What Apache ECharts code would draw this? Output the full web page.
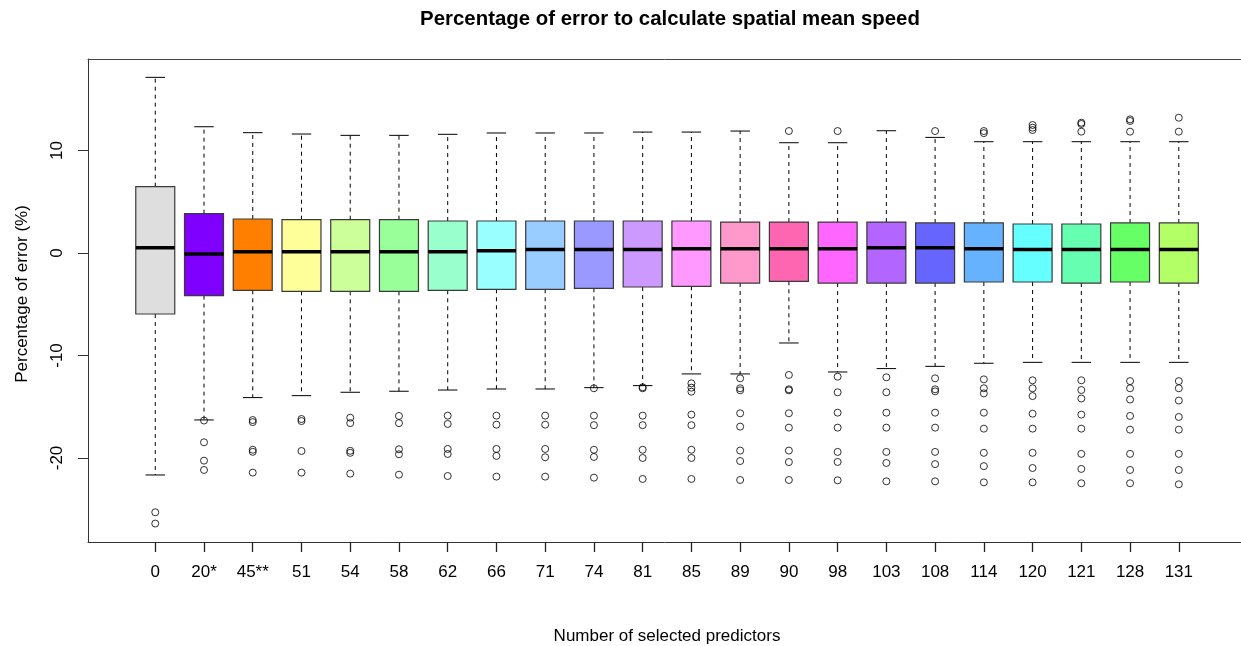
<!DOCTYPE html>
<html>
<head>
<meta charset="utf-8">
<script src="https://cdn.jsdelivr.net/npm/echarts@6/dist/echarts.min.js"></script>
<style>html,body{margin:0;padding:0;background:#fff}#chart{width:1241px;height:646px}</style>
</head>
<body>
<div id="chart"></div>
<script>
const categories = ['0','20*','45**','51','54','58','62','66','71','74','81','85','89','90','98','103','108','114','120','121','128','131'];
const upperWhisker = [17.14, 12.32, 11.74, 11.61, 11.48, 11.48, 11.58, 11.71, 11.71, 11.71, 11.8, 11.8, 11.9, 10.76, 10.76, 11.93, 11.28, 10.86, 10.86, 10.86, 10.86, 10.86];
const q3 = [6.47, 3.84, 3.32, 3.25, 3.25, 3.25, 3.12, 3.12, 3.12, 3.12, 3.12, 3.12, 3.02, 3.02, 3.02, 3.02, 2.93, 2.93, 2.83, 2.83, 2.93, 2.93];
const median = [0.52, -0.1, 0.13, 0.13, 0.13, 0.13, 0.13, 0.23, 0.33, 0.33, 0.33, 0.42, 0.42, 0.42, 0.42, 0.52, 0.52, 0.42, 0.33, 0.33, 0.33, 0.33];
const q1 = [-5.95, -4.16, -3.64, -3.74, -3.74, -3.74, -3.64, -3.54, -3.54, -3.45, -3.32, -3.25, -2.93, -2.76, -2.93, -2.93, -2.93, -2.83, -2.83, -2.93, -2.83, -2.93];
const lowerWhisker = [-21.66, -16.29, -14.11, -13.92, -13.59, -13.49, -13.37, -13.27, -13.27, -13.14, -12.94, -11.8, -11.8, -8.78, -11.61, -11.28, -11.06, -10.76, -10.67, -10.67, -10.67, -10.67];
const outliers = [
  [-25.3, -26.4],
  [-16.35, -18.47, -20.26, -21.17],
  [-16.3, -16.5, -19.2, -19.4, -21.43],
  [-16.2, -16.4, -19.32, -21.43],
  [-16.07, -16.6, -19.3, -19.5, -21.53],
  [-15.9, -16.6, -19.15, -19.64, -21.63],
  [-15.87, -16.68, -19.12, -19.61, -21.76],
  [-15.87, -16.75, -19.12, -19.8, -21.82],
  [-15.87, -16.75, -19.12, -19.93, -21.82],
  [-13.2, -15.87, -16.8, -19.2, -19.9, -21.92],
  [-13.1, -13.2, -15.87, -16.8, -19.2, -20.0, -22.05],
  [-12.72, -13.14, -13.53, -15.77, -16.8, -19.2, -20.0, -22.05],
  [-12.23, -13.2, -13.4, -15.64, -16.94, -19.28, -20.3, -22.15],
  [11.9, -11.9, -13.3, -13.4, -15.64, -17.04, -19.28, -20.4, -22.15],
  [11.9, -12.07, -13.59, -15.58, -17.04, -19.41, -20.39, -22.18],
  [-12.13, -13.59, -15.58, -17.04, -19.41, -20.49, -22.28],
  [11.9, -12.23, -13.3, -13.5, -15.58, -17.04, -19.41, -20.6, -22.28],
  [11.9, 11.7, -12.33, -13.2, -13.7, -15.58, -17.14, -19.5, -20.8, -22.38],
  [12.49, 12.23, 12.0, -12.42, -13.2, -13.96, -15.68, -17.14, -19.5, -20.98, -22.38],
  [12.71, 12.59, 11.84, -12.42, -13.37, -14.2, -15.77, -17.14, -19.6, -21.07, -22.47],
  [13.04, 12.88, 11.84, -12.5, -13.2, -14.3, -15.9, -17.24, -19.6, -21.17, -22.47],
  [13.2, 11.84, -12.5, -13.2, -14.4, -16.0, -17.24, -19.6, -21.17, -22.57]
];
const boxColors = ['#dedede','#8000ff','#ff8000','#ffff99','#ccff99','#99ff99','#99ffcc','#99ffff','#99ccff','#9999ff','#cc99ff','#ff99ff','#ff99cc','#ff66b2','#ff66ff','#b266ff','#6666ff','#66b2ff','#66ffff','#66ffb2','#66ff66','#b2ff66'];
const yTicks = [-20, -10, 0, 10];

const FONT = '"Liberation Sans", Arial, sans-serif';
const positions = categories.map((c, i) => i + 1);
const X_MIN = -0.38, X_MAX = 23.276;
const Y_MIN = -28.2, Y_MAX = 18.93;

const boxData = categories.map((c, i) => [i + 1, lowerWhisker[i], q1[i], median[i], q3[i], upperWhisker[i]]);
const outlierData = [];
outliers.forEach((arr, i) => arr.forEach(v => outlierData.push([i + 1, v])));

const chart = echarts.init(document.getElementById('chart'), null, {renderer: 'canvas'});

function renderBox(params, api) {
  const x = api.value(0);
  const lw = api.value(1), a = api.value(2), md = api.value(3), b = api.value(4), uw = api.value(5);
  const unit = api.size([1, 0])[0];
  const half = unit * 0.4;
  const stapleHalf = unit * 0.2;
  const cx = api.coord([x, 0])[0];
  const yLw = api.coord([x, lw])[1];
  const yA = api.coord([x, a])[1];
  const yMd = api.coord([x, md])[1];
  const yB = api.coord([x, b])[1];
  const yUw = api.coord([x, uw])[1];
  const dash = {stroke: '#000', lineWidth: 1, lineDash: [4, 4]};
  const solid = {stroke: '#000', lineWidth: 1};
  return {
    type: 'group',
    children: [
      {type: 'line', shape: {x1: cx, y1: yB, x2: cx, y2: yUw}, style: dash},
      {type: 'line', shape: {x1: cx, y1: yA, x2: cx, y2: yLw}, style: dash},
      {type: 'line', shape: {x1: cx - stapleHalf, y1: yUw, x2: cx + stapleHalf, y2: yUw}, style: solid},
      {type: 'line', shape: {x1: cx - stapleHalf, y1: yLw, x2: cx + stapleHalf, y2: yLw}, style: solid},
      {type: 'rect', shape: {x: cx - half, y: yB, width: half * 2, height: yA - yB},
        style: {fill: boxColors[params.dataIndex], stroke: '#3a3a3a', lineWidth: 1.2}},
      {type: 'line', shape: {x1: cx - half, y1: yMd, x2: cx + half, y2: yMd}, style: {stroke: '#000', lineWidth: 3.5}}
    ]
  };
}

const option = {
  animation: false,
  backgroundColor: '#fff',
  grid: {left: 88, top: 59, right: 0, bottom: 104, show: false},
  xAxis: [{
    type: 'value', min: X_MIN, max: X_MAX,
    axisLine: {show: true, onZero: false, lineStyle: {color: '#333', width: 1}},
    splitLine: {show: false},
    axisTick: {show: true, length: 10, customValues: positions, lineStyle: {color: '#222', width: 1.3}},
    axisLabel: {customValues: positions, margin: 22, fontSize: 17, fontFamily: FONT, color: '#000',
      formatter: v => categories[Math.round(v) - 1]}
  }, {
    type: 'value', min: X_MIN, max: X_MAX, position: 'top',
    axisLine: {show: true, onZero: false, lineStyle: {color: '#444', width: 1}},
    splitLine: {show: false}, axisTick: {show: false}, axisLabel: {show: false}
  }],
  yAxis: {
    type: 'value', min: Y_MIN, max: Y_MAX,
    axisLine: {show: true, onZero: false, lineStyle: {color: '#333', width: 1}},
    splitLine: {show: false},
    axisTick: {show: true, length: 10, customValues: yTicks, lineStyle: {color: '#333'}},
    axisLabel: {customValues: yTicks, rotate: 90, margin: 22, fontSize: 17, fontFamily: FONT, color: '#000'}
  },
  graphic: [
    {type: 'text', x: 670, y: 19, style: {text: 'Percentage of error to calculate spatial mean speed', fontSize: 20.4, fontWeight: 'bold', fontFamily: FONT, fill: '#000', align: 'center', verticalAlign: 'middle'}},
    {type: 'text', x: 667, y: 636, style: {text: 'Number of selected predictors', fontSize: 17, fontFamily: FONT, fill: '#000', align: 'center', verticalAlign: 'middle'}},
    {type: 'text', x: 22, y: 294, rotation: Math.PI / 2, style: {text: 'Percentage of error (%)', fontSize: 17, fontFamily: FONT, fill: '#000', align: 'center', verticalAlign: 'middle'}}
  ],
  series: [
    {type: 'custom', xAxisIndex: 0, renderItem: renderBox, data: boxData, encode: {x: 0, y: [1, 2, 3, 4, 5]}, clip: false},
    {type: 'scatter', xAxisIndex: 0, data: outlierData, symbol: 'circle', symbolSize: 7,
      itemStyle: {color: 'rgba(0,0,0,0)', borderColor: '#000', borderWidth: 1}, z: 5}
  ]
};
chart.setOption(option);
</script>
</body>
</html>
